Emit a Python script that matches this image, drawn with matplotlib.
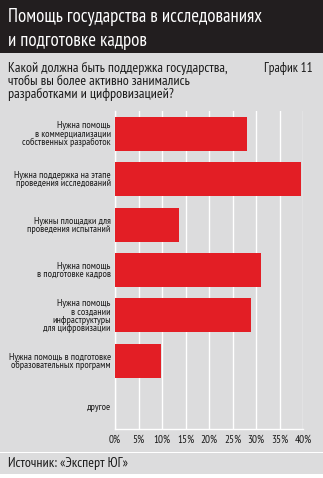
import matplotlib.pyplot as plt
from matplotlib.patches import Rectangle

plt.rcParams['font.family'] = ['PT Sans Narrow', 'DejaVu Sans']

categories = [
    "Нужна помощь\nв коммерциализации\nсобственных разработок",
    "Нужна поддержка на этапе\nпроведения исследований",
    "Нужны площадки для\nпроведения испытаний",
    "Нужна помощь\nв подготовке кадров",
    "Нужна помощь\nв создании\nинфраструктуры\nдля цифровизации",
    "Нужна помощь в подготовке\nобразовательных программ",
    "другое",
]
values = [28.0, 39.6, 13.6, 31.0, 28.9, 9.7, 0.0]
ticks = [0, 5, 10, 15, 20, 25, 30, 35, 40]
tick_labels = ["0%", "5%", "10%", "15%", "20%", "25%", "30%", "35%", "40%"]

grey = "#dcdcdd"
dark = "#221e1f"
red = "#e31e25"

W, H = 323, 478
fig = plt.figure(figsize=(W / 100, H / 100), dpi=100, facecolor=grey)


def fy(py):
    # pixel from top -> figure fraction
    return 1 - py / H


# header band
fig.patches.append(Rectangle((0, fy(53)), 1, 53 / H, transform=fig.transFigure,
                             facecolor=dark, edgecolor="none", zorder=0))
# white separator line and bottom margin
fig.patches.append(Rectangle((0, fy(453)), 1, 1.5 / H, transform=fig.transFigure,
                             facecolor="white", edgecolor="none", zorder=0))
fig.patches.append(Rectangle((0, 0), 1, 4 / H, transform=fig.transFigure,
                             facecolor="white", edgecolor="none", zorder=0))

fig.text(8 / W, fy(17), "Помощь государства в исследованиях", color="white",
         fontsize=13.5, va="center", ha="left")
fig.text(8 / W, fy(41), "и подготовке кадров", color="white",
         fontsize=13.5, va="center", ha="left")

fig.text(8 / W, fy(62), "Какой должна быть поддержка государства,\n"
         "чтобы вы более активно занимались\nразработками и цифровизацией?",
         color="#1a1a1a", fontsize=10, va="top", ha="left", linespacing=1.0)
fig.text(313 / W, fy(62), "График 11", color="#1a1a1a", fontsize=9.5,
         va="top", ha="right")

fig.text(8 / W, fy(463), "Источник: «Эксперт ЮГ»", color="#1a1a1a",
         fontsize=10, va="center", ha="left")

# chart
ax = fig.add_axes([115 / W, fy(429), (303.3 - 115) / W, (429 - 111) / H])
ax.set_facecolor(grey)
pos = list(range(len(categories)))
ax.barh(pos, values, height=0.75, color=red, zorder=3)
ax.set_xlim(0, 40)
ax.set_ylim(len(categories) - 0.5, -0.5)
ax.set_xticks(ticks)
ax.set_xticklabels(tick_labels, fontsize=8, color="#1a1a1a")
ax.set_yticks(pos)
ax.set_yticklabels(categories, fontsize=7.2, color="#1a1a1a", linespacing=0.9)
ax.tick_params(length=0, pad=3)
ax.tick_params(axis="x", pad=4)
ax.grid(axis="x", color="white", linewidth=1, zorder=1)
for s in ["top", "right"]:
    ax.spines[s].set_visible(False)
for s in ["left", "bottom"]:
    ax.spines[s].set_color("white")
    ax.spines[s].set_linewidth(1)

fig.savefig("out.png", dpi=100, facecolor=grey)
